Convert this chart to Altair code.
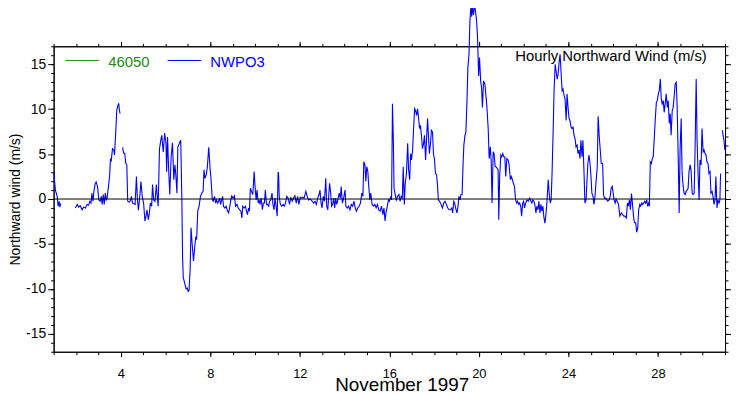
import altair as alt
import pandas as pd

# ---- data (day of November 1997, northward wind m/s); None = missing ----
day = [
    1.00, 1.08, 1.16, 1.20, 1.25, 1.28, 1.32, 1.60,
    1.97, 2.06, 2.12, 2.19, 2.27, 2.34, 2.42, 2.49, 2.56, 2.62, 2.67, 2.71, 2.76, 2.80, 2.86, 2.90,
    2.96, 3.02, 3.08, 3.13, 3.17, 3.22, 3.26, 3.31, 3.35, 3.39, 3.45, 3.50, 3.54, 3.57, 3.63, 3.69,
    3.72, 3.78, 3.82, 3.87, 3.91, 3.94, 3.97, 4.02,
    4.08, 4.13, 4.18, 4.22, 4.27, 4.31, 4.37, 4.42, 4.48, 4.52, 4.58, 4.64, 4.70, 4.74, 4.79, 4.85,
    4.90, 4.96, 5.02, 5.08, 5.13, 5.17, 5.23, 5.28, 5.32, 5.38, 5.42, 5.47, 5.53, 5.59, 5.63, 5.67,
    5.73, 5.79, 5.83, 5.90, 5.96, 6.02, 6.05, 6.09, 6.14, 6.19, 6.25, 6.31, 6.37, 6.42, 6.46, 6.51,
    6.55, 6.59, 6.64, 6.68, 6.73, 6.76, 6.79, 6.83, 6.88, 6.92, 6.97, 7.01, 7.05, 7.10, 7.14, 7.19,
    7.25, 7.31, 7.35, 7.39, 7.44, 7.50, 7.56, 7.62, 7.68, 7.72, 7.76, 7.82, 7.87, 7.93, 7.99, 8.03,
    8.09, 8.13, 8.19, 8.24, 8.28, 8.33, 8.37, 8.42, 8.46, 8.51, 8.55, 8.59, 8.65, 8.71, 8.77, 8.82,
    8.86, 8.92, 8.96, 9.02, 9.08, 9.13, 9.19, 9.25, 9.31, 9.37, 9.41, 9.45, 9.51, 9.57, 9.62, 9.66,
    9.71, 9.75, 9.79, 9.84, 9.90, 9.96, 10.00, 10.05, 10.09, 10.14, 10.18, 10.22, 10.27, 10.33, 10.37, 10.42,
    10.46, 10.51, 10.55, 10.61, 10.65, 10.70, 10.76, 10.80, 10.85, 10.89, 10.94, 10.99, 11.03, 11.05, 11.08, 11.13,
    11.19, 11.25, 11.31, 11.36, 11.42, 11.48, 11.54, 11.60, 11.66, 11.72, 11.78, 11.84, 11.90, 11.96, 12.02, 12.08,
    12.13, 12.19, 12.27, 12.33, 12.39, 12.45, 12.50, 12.56, 12.62, 12.68, 12.74, 12.80, 12.86, 12.90, 12.95, 12.99,
    13.05, 13.10, 13.16, 13.20, 13.25, 13.29, 13.33, 13.38, 13.42, 13.47, 13.51, 13.56, 13.60, 13.65, 13.70, 13.76,
    13.81, 13.85, 13.90, 13.96, 14.02, 14.06, 14.12, 14.18, 14.24, 14.30, 14.36, 14.42, 14.48, 14.53, 14.59, 14.65,
    14.71, 14.77, 14.82, 14.86, 14.91, 14.95, 14.99, 15.04, 15.08, 15.13, 15.17, 15.23, 15.29, 15.35, 15.41, 15.47,
    15.53, 15.59, 15.65, 15.71, 15.76, 15.81, 15.85, 15.91, 15.96, 16.00, 16.06, 16.10, 16.14, 16.18, 16.21, 16.25,
    16.31, 16.37, 16.43, 16.48, 16.53, 16.58, 16.62, 16.67, 16.71, 16.76, 16.82, 16.86, 16.91, 16.95, 16.99, 17.04,
    17.08, 17.13, 17.17, 17.22, 17.26, 17.31, 17.35, 17.39, 17.44, 17.48, 17.53, 17.57, 17.62, 17.66, 17.71, 17.75,
    17.79, 17.84, 17.88, 17.93, 17.97, 18.02, 18.06, 18.11, 18.15, 18.19, 18.25, 18.31, 18.37, 18.43, 18.49, 18.55,
    18.61, 18.67, 18.73, 18.79, 18.83, 18.88, 18.92, 18.96, 19.02, 19.07, 19.11, 19.16, 19.20, 19.25, 19.29, 19.33,
    19.38, 19.42, 19.47, 19.51, 19.56, 19.60, 19.65, 19.68, 19.72, 19.76, 19.81, 19.85, 19.90, 19.94, 19.99, 20.03,
    20.08, 20.12, 20.16, 20.21, 20.27, 20.33, 20.37, 20.42, 20.46, 20.51, 20.55, 20.59, 20.64, 20.68, 20.73, 20.77,
    20.82, 20.86, 20.89, 20.93, 20.98, 21.02, 21.07, 21.11, 21.16, 21.20, 21.25, 21.31, 21.35, 21.41, 21.45, 21.50,
    21.54, 21.59, 21.64, 21.69, 21.73, 21.78, 21.82, 21.87, 21.91, 21.96, 22.00, 22.04, 22.09, 22.15, 22.21, 22.27,
    22.33, 22.37, 22.41, 22.46, 22.50, 22.55, 22.59, 22.64, 22.68, 22.73, 22.77, 22.82, 22.86, 22.90, 22.95, 22.99,
    23.04, 23.10, 23.14, 23.19, 23.23, 23.27, 23.32, 23.36, 23.41, 23.45, 23.50, 23.54, 23.59, 23.63, 23.67, 23.72,
    23.76, 23.81, 23.85, 23.90, 23.94, 23.99, 24.03, 24.07, 24.12, 24.16, 24.21, 24.25, 24.30, 24.34, 24.39, 24.43,
    24.47, 24.52, 24.56, 24.61, 24.65, 24.70, 24.74, 24.79, 24.83, 24.87, 24.92, 24.96, 25.01, 25.05, 25.10, 25.14,
    25.19, 25.23, 25.29, 25.33, 25.38, 25.42, 25.47, 25.53, 25.57, 25.61, 25.67, 25.72, 25.76, 25.82, 25.87, 25.91,
    25.96, 26.00, 26.04, 26.09, 26.13, 26.18, 26.24, 26.30, 26.37, 26.42, 26.48, 26.53, 26.59, 26.64, 26.68, 26.73,
    26.77, 26.82, 26.86, 26.91, 26.95, 27.01, 27.05, 27.10, 27.14, 27.19, 27.23, 27.28, 27.32, 27.36, 27.41, 27.45,
    27.50, 27.54, 27.59, 27.62, 27.66, 27.71, 27.75, 27.79, 27.84, 27.88, 27.93, 27.97, 28.02, 28.06, 28.11, 28.15,
    28.19, 28.24, 28.28, 28.33, 28.37, 28.42, 28.46, 28.51, 28.55, 28.59, 28.64, 28.68, 28.73, 28.77, 28.82, 28.86,
    28.91, 28.95, 28.99, 29.04, 29.08, 29.13, 29.17, 29.22, 29.26, 29.31, 29.35, 29.39, 29.44, 29.48, 29.53, 29.57,
    29.62, 29.66, 29.71, 29.75, 29.79, 29.84, 29.88, 29.93, 29.97, 30.02, 30.06, 30.11, 30.15, 30.19, 30.24, 30.28,
    30.33, 30.37, 30.42, 30.46, 30.51, 30.55, 30.59, 30.64, 30.68, 30.73, 30.77, 30.80, 30.84,
    30.88, 30.91, 30.95, 30.99,
]
wind = [
    3.05, 1.0, 0.3, -0.8, -0.25, -0.9, -0.5, None,
    -1.0, -0.6, -0.9, -0.75, -1.2, -0.9, -1.0, -0.6, -0.7, -0.25, -0.45, 0.65, -0.25, 0.85, 1.75, 1.9,
    1.4, -0.1, -0.25, 0.3, -0.6, 0.5, -0.6, 0.65, -0.1, 0.1, 1.4, 2.5, 4.5, 4.15, 5.6, 5.45,
    4.9, 7.65, 9.85, 10.4, 10.65, 9.85, 9.5, None,
    5.75, 5.1, 5.1, 4.0, 3.8, -0.25, -0.35, -0.25, 0.3, -0.45, -0.5, -0.6, 2.5, 0.1, -1.25, 0.3,
    1.95, 0.3, -0.45, -2.45, -1.9, -1.2, -2.3, -1.55, -0.45, -0.8, 1.6, -0.1, -0.25, 1.6, 0.3, -0.8,
    5.6, 6.55, 7.1, 5.25, 7.35, 6.2, 3.05, 6.9, 3.25, 0.5, 4.7, 6.25, 2.15, 3.8, 2.7, 0.65,
    5.8, 6.0, 6.35, 6.55, -0.1, -6.3, -8.7, -9.1, -9.6, -10.0, -9.9, -10.3, -10.2, -7.8, -3.2, -5.0,
    -6.9, -5.2, -4.3, -4.5, -1.35, -0.8, 0.3, 0.65, 0.85, 3.25, 2.3, 2.7, 3.6, 5.75, 3.4, 2.3,
    -0.1, -0.25, 0.3, -0.45, -0.1, -0.45, -0.25, 0.1, -0.6, -0.1, 0.3, -0.8, -1.0, -0.8, -1.35, -1.55,
    -1.0, -0.1, 0.35, 0.1, 0.35, -0.8, -0.6, -1.0, -1.2, -1.35, -2.1, -0.8, -1.0, -0.8, -1.35, -1.75,
    -1.0, -1.35, 1.2, 0.85, 0.5, 3.05, 1.4, -0.1, 1.0, -0.45, -0.1, -0.6, 0.1, -1.2, -0.45, -0.45,
    1.0, -0.6, -0.6, -0.8, -0.25, -0.1, 0.65, -0.6, -1.2, 0.1, -0.8, -1.9, 3.0, 2.9, 0.3, -0.6,
    -0.8, -0.6, -0.8, -0.45, 0.3, 0.1, -0.6, 0.2, -0.25, 0.1, 0.35, -0.45, 0.3, -0.6, 0.2, 0.1,
    0.2, 0.1, 0.85, 0.3, -0.1, 0.0, -0.1, -0.25, -0.45, -0.25, -0.6, 0.1, 0.5, 1.0, -0.45, -1.0,
    0.3, -0.25, 2.3, -0.8, -1.2, 0.3, 1.75, 0.65, -0.8, -0.6, 0.1, -1.0, 0.1, -0.6, -0.1, 0.65,
    0.1, 1.4, -0.45, 0.1, 1.0, -0.8, -1.0, -0.8, -1.2, -0.6, -0.8, -0.25, -1.0, -1.35, -1.0, -0.8,
    -0.45, 0.65, 0.3, 4.15, 3.8, 1.95, 3.6, 3.05, 1.4, -0.1, 0.65, -0.6, -0.8, -0.6, -1.0, -0.6,
    -1.25, -1.35, -0.8, -1.75, -1.0, -2.45, -1.55, -0.8, -0.1, -0.25, 0.2, -0.1, 10.6, 6.5, 1.2, 0.65,
    -0.1, 0.3, 0.5, -0.25, 0.3, 0.1, 3.6, -0.6, 1.75, 2.7, 6.2, 3.25, 2.15, 5.05, 4.35, 5.45,
    7.65, 10.05, 9.85, 9.3, 10.05, 8.95, 7.85, 8.2, 6.9, 5.6, 6.2, 7.1, 4.35, 6.55, 8.95, 6.9,
    5.05, 6.2, 7.65, 7.45, 5.05, 4.35, 2.85, 2.7, 1.6, -0.1, -0.25, -0.6, -1.0, -0.45, -0.25, -0.6,
    -1.0, -1.2, -1.2, -1.0, -1.55, -0.25, -0.45, -1.0, -1.55, -0.8, 0.3, -0.1, 0.5, 0.5, 3.6, 6.0,
    7.1, 7.45, 10.95, 14.65, 16.1, 19.8, 21.6, 20.3, 21.4, 20.5, 21.6, 20.9, 19.8, 18.1, 13.7, 15.75,
    13.15, 12.4, 10.2, 13.15, 12.8, 11.15, 9.85, 7.65, 4.5, 5.8, 4.35, -0.45, 5.25, 5.05, 3.6, 3.6,
    3.4, 3.25, -2.3, 2.5, 4.9, 4.7, 5.05, 4.7, 4.7, 2.5, 4.5, 4.35, 3.8, 2.15, 2.5, 2.15,
    1.75, 1.4, -0.1, -0.45, -0.25, -0.6, -0.45, -0.8, -1.9, -0.45, -0.25, -1.0, -0.45, -0.1, -0.25, 0.1,
    -0.25, -0.45, -0.1, -0.25, -0.6, -1.55, -0.8, -1.2, -0.25, -1.55, -0.6, -1.35, -0.8, -1.9, -2.7, -1.9,
    -0.45, 2.15, 0.65, -0.45, -0.1, 2.85, 7.65, 12.05, 15.0, 14.25, 13.35, 13.9, 15.35, 16.1, 14.25, 12.05,
    12.25, 11.5, 11.15, 8.75, 11.7, 10.05, 8.95, 8.75, 8.0, 7.85, 8.0, 7.1, 6.7, 5.8, 6.0, 5.05,
    5.45, 4.5, 6.55, 4.7, 6.55, 2.85, -0.45, -0.1, 1.95, 3.95, 4.9, 4.15, 2.5, 0.65, 0.3, -0.6,
    0.3, 1.75, 3.6, 9.2, 6.9, 5.6, 3.95, 3.95, 0.5, 0.1, 0.1, -0.1, -0.25, -0.1, 0.3, 1.2,
    1.4, 0.65, -0.1, -0.45, 0.0, -0.25, -0.6, -1.9, -1.55, -1.75, -1.9, -1.9, -2.1, -0.45, -0.8, -0.1,
    -1.2, 0.6, -0.45, -1.9, -2.65, -2.65, -3.7, -3.2, -1.2, -0.6, -0.8, -0.45, -0.6, -0.45, -0.25, -0.45,
    -0.1, -0.8, -0.45, -0.8, 4.15, 3.95, 4.5, 4.7, 6.9, 8.75, 10.75, 10.95, 11.7, 12.05, 13.35, 11.15,
    10.6, 10.95, 9.65, 10.75, 11.7, 10.2, 10.95, 8.4, 9.5, 7.1, 9.85, 10.2, 11.5, 12.8, 13.0, 10.2,
    4.35, -1.55, 5.45, 8.95, 2.85, 1.4, 0.65, 0.5, 0.85, 1.0, 1.2, 3.05, 3.8, 3.25, 0.65, 0.5,
    0.65, 5.45, 13.35, 6.55, 3.25, -0.1, 4.35, 3.8, 7.85, 5.25, 5.45, 5.05, 4.9, 4.15, 3.95, 2.85,
    3.05, 0.65, 0.85, 0.3, -0.6, -0.1, 2.5, -1.0, -0.1, -0.45, -0.1, 2.85, None,
    7.65, 7.1, 6.55, 5.45,
]

series_names = ["46050", "NWPO3"]
series_colors = ["#228B22", "#0000FF"]
chart_title = "Hourly Northward Wind (m/s)"
x_title = "November 1997"
y_title = "Northward wind (m/s)"
x_major = [4, 8, 12, 16, 20, 24, 28]
x_minor = list(range(1, 32))
y_major = [-15, -10, -5, 0, 5, 10, 15]
y_minor = list(range(-17, 18))

df = pd.DataFrame({"day": day, "wind": wind})
df["seg"] = df["wind"].isna().cumsum()
df = df.dropna().reset_index(drop=True)

W, H = 677, 308
FONT = "Liberation Sans"
xs = alt.Scale(domain=[1, 31], nice=False, zero=False)
ys = alt.Scale(domain=[-17, 17], nice=False, zero=False)


def axis(orient, values, size, **kw):
    opts = dict(orient=orient, values=values, tickSize=size, grid=False,
                domainColor="black", tickColor="black", domainWidth=1, tickWidth=1)
    opts.update(kw)
    if "labels" not in kw:
        opts["labels"] = False
    return alt.Axis(**opts)


base = alt.Chart(df)

x_bottom = axis("bottom", x_major, 5, labels=True, labelFontSize=13, labelPadding=11,
                labelColor="black", labelFont=FONT, title=x_title, titleFontSize=19,
                titleFont=FONT, titleFontWeight="normal", titleColor="black",
                titleX=351, titleY=39.5, titleAlign="center", titleBaseline="alphabetic")
y_left = axis("left", y_major, 6, labels=True, labelFontSize=14, labelPadding=2,
              labelColor="black", labelFont=FONT, labelExpr="'' + datum.value",
              title=y_title, titleFontSize=14, titleFont=FONT, titleFontWeight="normal",
              titleColor="black", titleX=-34.5, titleY=154, titleAlign="center",
              titleBaseline="alphabetic", titleAngle=270)

line = base.mark_line(color=series_colors[1], strokeWidth=1.1).encode(
    x=alt.X("day:Q", scale=xs, axis=x_bottom),
    y=alt.Y("wind:Q", scale=ys, axis=y_left),
    detail="seg:N",
)


def ghost(xa, ya):
    return base.mark_line(opacity=0).encode(
        x=alt.X("day:Q", scale=xs, axis=xa, title=None),
        y=alt.Y("wind:Q", scale=ys, axis=ya, title=None),
        detail="seg:N",
    )


minor_bl = ghost(axis("bottom", x_minor, 3), axis("left", y_minor, 3))
major_tr = ghost(axis("top", x_major, 5), axis("right", y_major, 6))
minor_tr = ghost(axis("top", x_minor, 3), axis("right", y_minor, 3))

zero = alt.Chart(pd.DataFrame({"y": [0]})).mark_rule(color="black", strokeWidth=1).encode(
    y=alt.Y("y:Q", scale=ys, axis=None)
)

title_txt = alt.Chart(pd.DataFrame({"t": [chart_title]})).mark_text(
    font=FONT, fontSize=15, align="center", baseline="alphabetic", color="black"
).encode(x=alt.value(562), y=alt.value(14.5), text="t:N")

legend_layers = []
leg_x = [12, 115]
for name, col, x0 in zip(series_names, series_colors, leg_x):
    legend_layers.append(
        alt.Chart(pd.DataFrame({"n": [name]})).mark_rule(color=col, strokeWidth=1).encode(
            x=alt.value(x0), x2=alt.value(x0 + 34), y=alt.value(14.3)
        )
    )
    legend_layers.append(
        alt.Chart(pd.DataFrame({"n": [name]})).mark_text(
            font=FONT, fontSize=15, align="left", baseline="alphabetic", color=col
        ).encode(x=alt.value(x0 + 43), y=alt.value(21), text="n:N")
    )

chart = alt.layer(
    line, zero, minor_bl, major_tr, minor_tr, title_txt, *legend_layers
).resolve_axis(x="independent", y="independent").properties(
    width=W, height=H,
    padding={"left": 46, "top": 37, "right": 6, "bottom": 41},
    autosize=alt.AutoSizeParams(type="none"),
).configure_view(stroke=None)

chart.save("out.html", embed_options={"renderer": "svg", "actions": False})
